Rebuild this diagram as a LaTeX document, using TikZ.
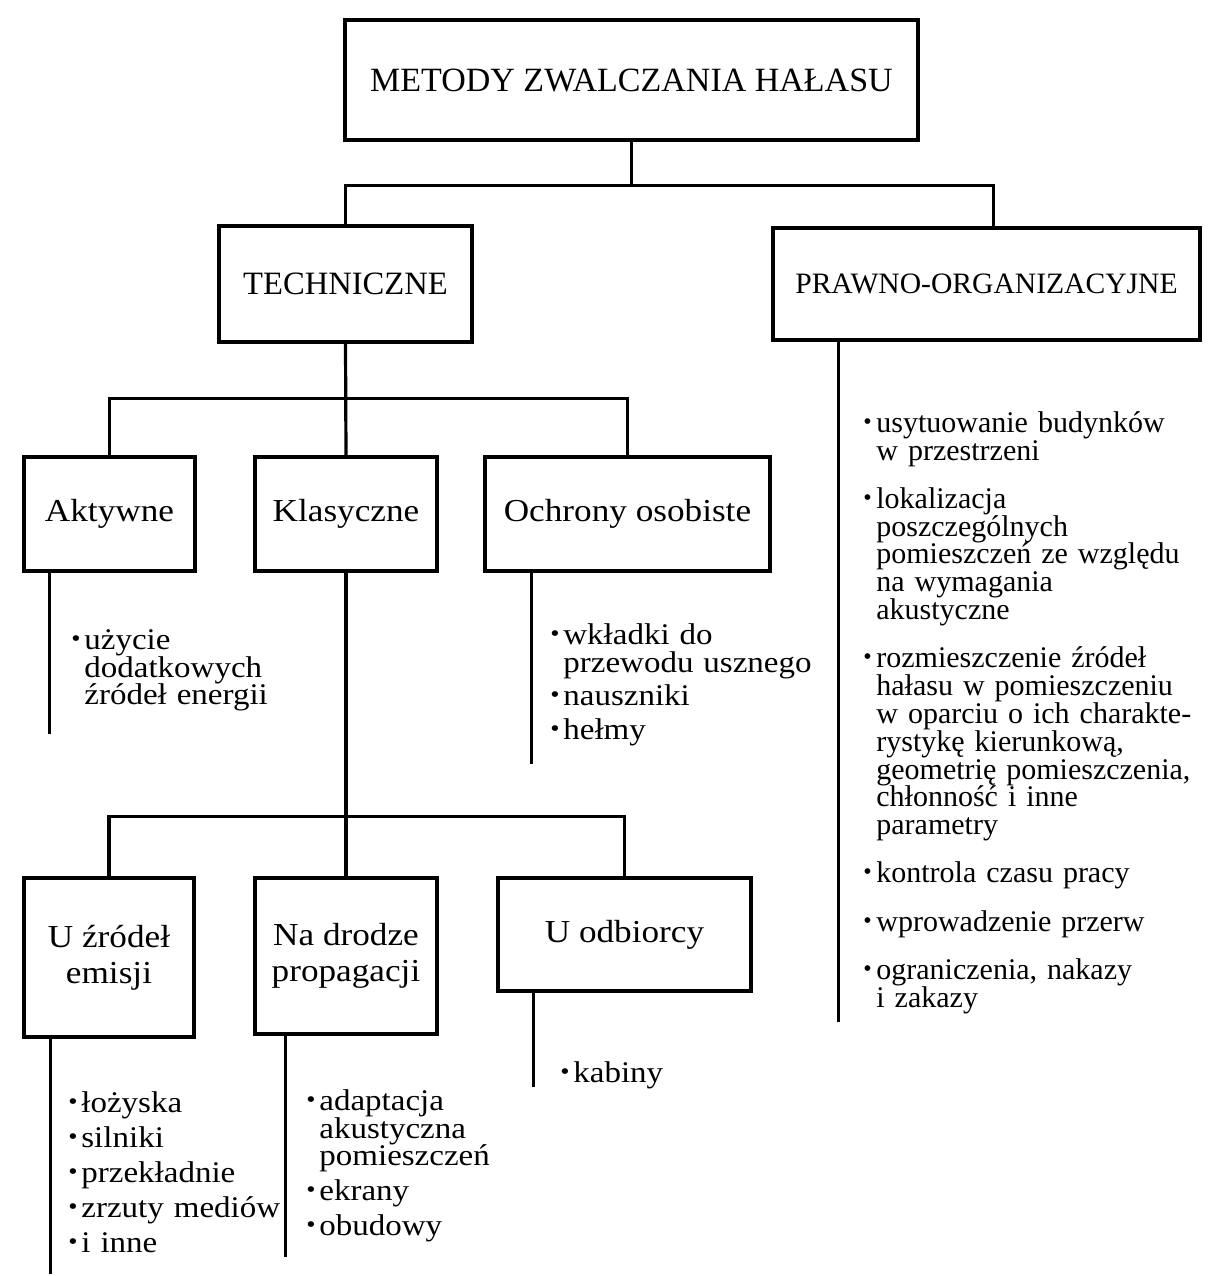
\documentclass[tikz,border=0pt]{standalone}
\usepackage{fontspec}
\usepackage{tikz}
\usetikzlibrary{positioning}
\setmainfont[FakeStretch=1.1]{Liberation Serif}
\newfontfamily\wersaliki{Liberation Serif}

\newcommand{\tekstlisty}{\fontsize{15}{13.9}\selectfont\lineskiplimit=-20pt\lineskip=0pt}
\newcommand{\kropka}{\raisebox{1.5pt}{\fontsize{12}{12}\selectfont\textbullet}}
\newcommand{\pkt}[1]{\par\noindent\hangindent=6.5pt\hangafter=1%
  \makebox[6.5pt][l]{\kropka}#1\par}

\tikzset{
  ramka/.style={draw, line width=1.8pt, inner sep=0pt, align=center,
                font=\fontsize{16}{18}\selectfont},
  linia/.style={line width=1.6pt},
  lista/.style={anchor=north west, inner sep=0pt, text width=#1, align=left,
                font=\tekstlisty},
  odstep/.style={execute at begin node={\setlength{\parskip}{#1}\vspace*{-#1}}}
}

\begin{document}
\begin{tikzpicture}[x=0.5pt, y=0.5pt]
  \useasboundingbox[fill=white] (0,0) rectangle (1216,-1276);

  % poziom 1
  \node[ramka, minimum width=286.5pt, minimum height=60pt,
        font=\wersaliki\fontsize{17}{20}\selectfont] (metody) at (631.5,-80)
        {METODY ZWALCZANIA HAŁASU};

  % poziom 2
  \node[ramka, minimum width=126.5pt, minimum height=58pt,
        font=\wersaliki\fontsize{16.3}{19}\selectfont] (tech) at (345.5,-284)
        {TECHNICZNE};
  \node[ramka, minimum width=213.5pt, minimum height=56pt,
        font=\wersaliki\fontsize{14.8}{17}\selectfont] (prawno) at (986.5,-284)
        {PRAWNO-ORGANIZACYJNE};

  % poziom 3
  \node[ramka, minimum width=85.5pt, minimum height=57pt] (akt) at (109.5,-514) {Aktywne};
  \node[ramka, minimum width=91pt, minimum height=57pt] (klas) at (346,-514) {Klasyczne};
  \node[ramka, minimum width=142.5pt, minimum height=57pt] (ochr) at (627.5,-514) {Ochrony osobiste};

  % poziom 4
  \node[ramka, minimum width=85pt, minimum height=79.5pt] (uzr) at (109,-957.5) {U źródeł\\ emisji};
  \node[ramka, minimum width=91pt, minimum height=78pt] (nadr) at (346,-956) {Na drodze\\ propagacji};
  \node[ramka, minimum width=126.5pt, minimum height=56.5pt] (uodb) at (624.5,-934.5) {U odbiorcy};

  % polaczenia
  \draw[linia] (tech.north) -- ++(0,39) coordinate (szyna) -| ([xshift=3.5pt]prawno.north);
  \draw[linia] (metody.south) -- (metody.south |- szyna);
  \draw[linia] (tech.south) -- (klas.north);
  \draw[linia] (akt.north) -- ++(0,57) -| (ochr.north);
  \draw[linia] (klas.south) -- (nadr.north);
  \draw[linia] (uzr.north) -- ++(0,60) -| (uodb.north);

  % piony list
  \draw[linia] ([xshift=13.5pt]akt.south west) -- ++(0,-161);
  \draw[linia] ([xshift=24pt]ochr.south west) -- ++(0,-191);
  \draw[linia] ([xshift=33.5pt]prawno.south west) -- ++(0,-680);
  \draw[linia] ([xshift=14pt]uzr.south west) -- ++(0,-235);
  \draw[linia] ([xshift=16pt]nadr.south west) -- ++(0,-221);
  \draw[linia] ([xshift=18.5pt]uodb.south west) -- ++(0,-94);

  % listy
  \node[lista=120pt, odstep=0pt] (lakt) at (71,-621)
    {\pkt{użycie\newline dodatkowych\newline źródeł energii}};
  \node[lista=150pt, odstep=3pt] (lochr) at (550,-616)
    {\pkt{wkładki do\newline przewodu usznego}
     \pkt{nauszniki}
     \pkt{hełmy}};
  \node[lista=205pt, odstep=10.25pt, font=\wersaliki\tekstlisty] (lprawno) at (863,-404)
    {\pkt{usytuowanie budynków\newline w przestrzeni}
     \pkt{lokalizacja\newline poszczególnych\newline pomieszczeń ze względu\newline na wymagania\newline akustyczne}
     \pkt{rozmieszczenie źródeł\newline hałasu w pomieszczeniu\newline w oparciu o ich charakte-\newline rystykę kierunkową,\newline geometrię pomieszczenia,\newline chłonność i inne\newline parametry}
     \pkt{kontrola czasu pracy}
     \pkt{wprowadzenie przerw}
     \pkt{ograniczenia, nakazy\newline i zakazy}};
  \node[lista=110pt, odstep=3.6pt] (luzr) at (68,-1084)
    {\pkt{łożyska}
     \pkt{silniki}
     \pkt{przekładnie}
     \pkt{zrzuty mediów}
     \pkt{i inne}};
  \node[lista=110pt, odstep=3.6pt] (lnadr) at (306,-1082)
    {\pkt{adaptacja\newline akustyczna\newline pomieszczeń}
     \pkt{ekrany}
     \pkt{obudowy}};
  \node[lista=80pt, odstep=0pt] (luodb) at (560,-1054)
    {\pkt{kabiny}};
\end{tikzpicture}
\end{document}
